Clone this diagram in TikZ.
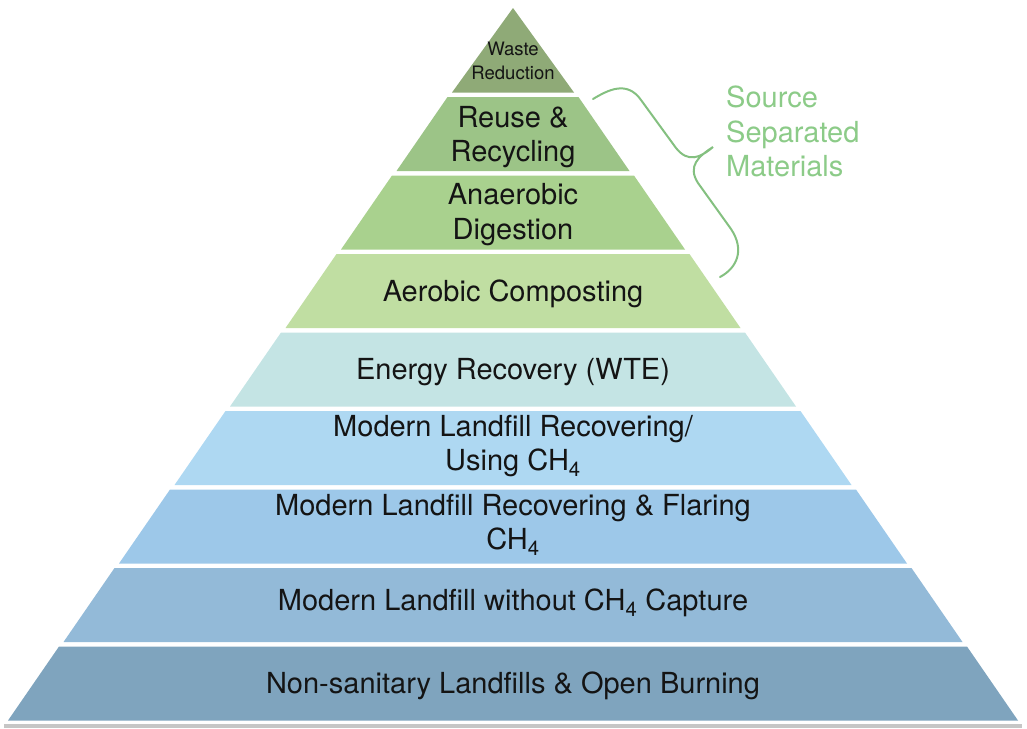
\documentclass[tikz,border=0pt]{standalone}
\usepackage{fontspec}
\setmainfont{TeX Gyre Heros}
\usetikzlibrary{positioning}

\definecolor{reductioncol}{HTML}{8FAA77}
\definecolor{reusecol}{HTML}{9CC487}
\definecolor{digestcol}{HTML}{A9D18E}
\definecolor{compostcol}{HTML}{C0DEA2}
\definecolor{energycol}{HTML}{C4E4E4}
\definecolor{usingcol}{HTML}{AED8F2}
\definecolor{flaringcol}{HTML}{9DC8E9}
\definecolor{capturecol}{HTML}{93BAD8}
\definecolor{burningcol}{HTML}{7FA4BE}
\definecolor{sourcecol}{HTML}{8CCB88}
\definecolor{bracecol}{HTML}{84C080}

\begin{document}
\begin{tikzpicture}[x=1pt,y=-1pt,
  layer text/.style={align=center,inner sep=0pt,text=black!92,
    font=\fontsize{29}{34.5}\selectfont},
  small text/.style={align=center,inner sep=0pt,text=black!92,
    font=\fontsize{18.5}{24.5}\selectfont}]

  \useasboundingbox (0,0) rectangle (1027,728);

  % shadow under the base
  \fill[gray!45] (4,724) rectangle (1022,728);

  % pyramid layers: top y / top left x / bottom y / bottom left x / colour
  \foreach \yt/\xt/\yb/\xb/\col in {
      8/513/92.5/452/reductioncol,
      97/447.5/171/396.5/reusecol,
      175.5/392/249.5/341/digestcol,
      254/336.5/328/285.5/compostcol,
      332.5/281/406.5/230/energycol,
      411/225.5/485/174.5/usingcol,
      489.5/170/563.5/119/flaringcol,
      568/114.5/642/63.5/capturecol,
      646.5/59/720.5/8/burningcol}
    \fill[\col] (\xt,\yt) -- ({1026-\xt},\yt) -- ({1026-\xb},\yb) -- (\xb,\yb) -- cycle;

  % layer labels
  \node[small text] (reduction) at (513,61) {Waste\\Reduction};
  \node[layer text] (reuse) at (513,137) {Reuse \&\\Recycling};
  \node[layer text] (digestion) at (513,214.5) {Anaerobic\\Digestion};
  \node[layer text] (composting) at (513,294) {Aerobic Composting};
  \node[layer text] (energy) at (513,372) {Energy Recovery (WTE)};
  \node[layer text] (using) at (513,446) {Modern Landfill Recovering/\\Using CH\textsubscript{4}};
  \node[layer text] (flaring) at (513,525) {Modern Landfill Recovering \& Flaring\\CH\textsubscript{4}};
  \node[layer text] (capture) at (513,603) {Modern Landfill without CH\textsubscript{4} Capture};
  \node[layer text] (burning) at (513,686) {Non-sanitary Landfills \& Open Burning};

  % brace and its label
  \node[layer text,align=left,text=sourcecol,anchor=west] (source) at (726,131.5)
    {Source\\Separated\\Materials};
  \coordinate (brace top) at (593,99);
  \coordinate (brace tip) at (713,147);
  \coordinate (brace bottom) at (720,277);
  \draw[bracecol,line width=2pt,line cap=round]
    (brace top) .. controls (608,90) and (627,80) .. (641,100)
    -- (676,148) .. controls (688,163) and (700,158) .. (brace tip)
    .. controls (699,156) and (687,166) .. (698,183)
    -- (731,229) .. controls (745,250) and (737,268) .. (brace bottom);
\end{tikzpicture}
\end{document}
